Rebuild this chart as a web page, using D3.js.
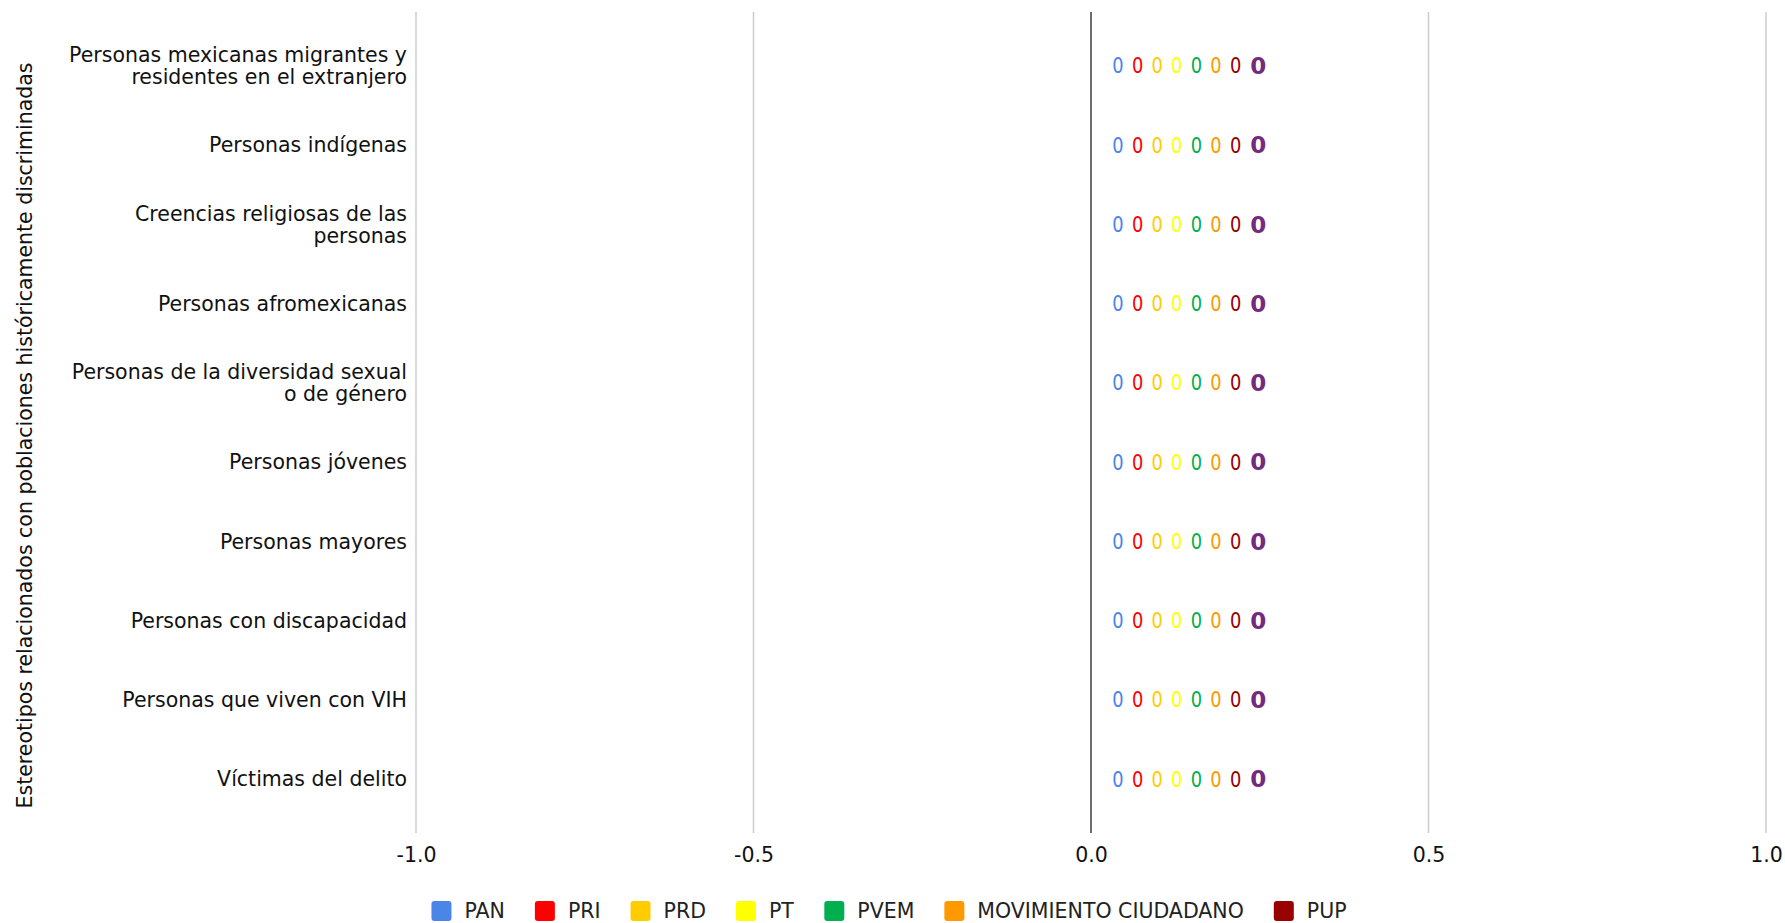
<!DOCTYPE html>
<html>
<head>
<meta charset="utf-8">
<script src="https://cdn.jsdelivr.net/npm/d3@7"></script>
<style>
  html, body { margin: 0; padding: 0; background: #fff; }
  svg { display: block; font-family: "DejaVu Sans", Verdana, sans-serif; }
</style>
</head>
<body>
<svg id="chart" width="1785" height="923"></svg>
<script>
// Categories (top to bottom)
const categories = [
  "Personas mexicanas migrantes y residentes en el extranjero",
  "Personas indígenas",
  "Creencias religiosas de las personas",
  "Personas afromexicanas",
  "Personas de la diversidad sexual o de género",
  "Personas jóvenes",
  "Personas mayores",
  "Personas con discapacidad",
  "Personas que viven con VIH",
  "Víctimas del delito"
];

// Parties (stacked series)
const parties = ["PAN", "PRI", "PRD", "PT", "PVEM", "MOVIMIENTO CIUDADANO", "PUP"];
const partyColors = ["#4a86e8", "#ff0000", "#ffcc00", "#ffff00", "#00b050", "#ff9900", "#990000"];
const totalColor = "#742a7e";

// Values per party, one entry per category
const PAN  = [0, 0, 0, 0, 0, 0, 0, 0, 0, 0];
const PRI  = [0, 0, 0, 0, 0, 0, 0, 0, 0, 0];
const PRD  = [0, 0, 0, 0, 0, 0, 0, 0, 0, 0];
const PT   = [0, 0, 0, 0, 0, 0, 0, 0, 0, 0];
const PVEM = [0, 0, 0, 0, 0, 0, 0, 0, 0, 0];
const MC   = [0, 0, 0, 0, 0, 0, 0, 0, 0, 0];
const PUP  = [0, 0, 0, 0, 0, 0, 0, 0, 0, 0];
const seriesValues = [PAN, PRI, PRD, PT, PVEM, MC, PUP];

const xTicks = [-1.0, -0.5, 0.0, 0.5, 1.0];
const axisTitle = "Estereotipos relacionados con poblaciones históricamente discriminadas";

// Layout
const svg = d3.select("#chart");
const plot = { left: 416, right: 1766, top: 12, bottom: 833 };
const fontSize = 20.5;

const x = d3.scaleLinear().domain([-1, 1]).range([plot.left, plot.right]);
const y = d3.scaleBand().domain(categories).range([plot.top, plot.bottom]).paddingInner(0).paddingOuter(0.18);

// Vertical gridlines
svg.append("g")
  .selectAll("line")
  .data(xTicks.filter(d => d !== 0))
  .join("line")
  .attr("x1", d => x(d)).attr("x2", d => x(d))
  .attr("y1", plot.top).attr("y2", plot.bottom)
  .attr("stroke", "#cccccc").attr("stroke-width", 1.5);

// Stacked data
const table = categories.map((c, i) => {
  const row = { category: c };
  parties.forEach((p, j) => row[p] = seriesValues[j][i]);
  return row;
});
const stacked = d3.stack().keys(parties)(table);

// Bars (all zero width)
svg.append("g")
  .selectAll("g")
  .data(stacked)
  .join("g")
  .attr("fill", (d, i) => partyColors[i])
  .selectAll("rect")
  .data(d => d)
  .join("rect")
  .attr("x", d => x(Math.min(d[0], d[1])))
  .attr("width", d => Math.abs(x(d[1]) - x(d[0])))
  .attr("y", d => y(d.data.category) + y.bandwidth() * 0.2)
  .attr("height", y.bandwidth() * 0.6);

// Baseline at zero
svg.append("line")
  .attr("x1", x(0)).attr("x2", x(0))
  .attr("y1", plot.top).attr("y2", plot.bottom)
  .attr("stroke", "#6e6e6e").attr("stroke-width", 2);

// X axis tick labels (plain hyphen for negatives)
const fmt = d3.format(".1f");
const xAxis = d3.axisBottom(x).tickValues(xTicks)
  .tickFormat(d => fmt(d).replace("\u2212", "-"))
  .tickSize(0).tickPadding(0);
const gx = svg.append("g")
  .attr("transform", `translate(0,${plot.bottom + 10})`)
  .call(xAxis);
gx.select(".domain").remove();
gx.selectAll("text")
  .attr("font-family", "DejaVu Sans, Verdana, sans-serif")
  .attr("font-size", fontSize)
  .attr("fill", "#111")
  .attr("dy", "0.95em");

// Category labels with wrapping
const yAxis = d3.axisLeft(y).tickSize(0).tickPadding(0);
const gy = svg.append("g")
  .attr("transform", `translate(${plot.left - 9},0)`)
  .call(yAxis);
gy.select(".domain").remove();
const maxLabelWidth = 346;
gy.selectAll("text")
  .attr("font-family", "DejaVu Sans, Verdana, sans-serif")
  .attr("font-size", fontSize)
  .attr("fill", "#111")
  .each(function(d) {
    const t = d3.select(this);
    const words = d.split(" ");
    t.text(null);
    const lines = [];
    let line = [];
    const probe = t.append("tspan");
    words.forEach(w => {
      line.push(w);
      probe.text(line.join(" "));
      if (probe.node().getComputedTextLength() > maxLabelWidth && line.length > 1) {
        line.pop();
        lines.push(line.join(" "));
        line = [w];
      }
    });
    lines.push(line.join(" "));
    probe.remove();
    const lh = 22;
    const y0 = -(lines.length - 1) * lh / 2;
    t.attr("dy", null);
    lines.forEach((l, k) => {
      t.append("tspan")
        .attr("x", 0)
        .attr("y", y0 + k * lh)
        .attr("dy", "0.35em")
        .text(l);
    });
  });

// Value annotations: each party's value, then the bold total
const annStart = 27, annStep = 19.6, totalGap = 22.6;
const annG = svg.append("g");
stacked.forEach((layer, j) => {
  annG.append("g")
    .selectAll("text")
    .data(layer)
    .join("text")
    .attr("font-size", 21)
    .attr("x", d => x(d[1]) + annStart + j * annStep)
    .attr("y", d => y(d.data.category) + y.bandwidth() / 2)
    .attr("dy", "0.36em")
    .attr("text-anchor", "middle")
    .attr("fill", partyColors[j])
    .attr("transform-origin", d => `${x(d[1]) + annStart + j * annStep}px 0px`)
    .attr("transform", "scale(0.85,1)")
    .text(d => d3.format("d")(d[1] - d[0]));
});
annG.append("g")
  .selectAll("text")
  .data(table)
  .join("text")
  .attr("font-size", 23)
  .attr("x", d => x(d3.sum(parties, p => d[p])) + annStart + (parties.length - 1) * annStep + totalGap)
  .attr("y", d => y(d.category) + y.bandwidth() / 2)
  .attr("dy", "0.36em")
  .attr("text-anchor", "middle")
  .attr("font-weight", "bold")
  .attr("fill", totalColor)
  .text(d => d3.format("d")(d3.sum(parties, p => d[p])));

// Y axis title
svg.append("text")
  .attr("transform", `translate(25,${(plot.top + plot.bottom) / 2 + 13}) rotate(-90)`)
  .attr("text-anchor", "middle")
  .attr("dy", "0.35em")
  .attr("font-size", fontSize)
  .attr("fill", "#111")
  .text(axisTitle);

// Legend
const legend = svg.append("g").attr("font-size", fontSize);
const sq = 20, sqGap = 13, itemGap = 30;
const items = legend.selectAll("g").data(parties).join("g");
items.append("rect")
  .attr("width", sq).attr("height", sq).attr("rx", 3)
  .attr("y", -sq / 2)
  .attr("fill", (d, i) => partyColors[i]);
items.append("text")
  .attr("x", sq + sqGap)
  .attr("dy", "0.35em")
  .attr("fill", "#222")
  .text(d => d);
const widths = [];
items.each(function() {
  widths.push(this.getBBox().width);
});
const totalW = d3.sum(widths) + itemGap * (widths.length - 1);
const legendCenter = 889;
let cx = legendCenter - totalW / 2;
items.attr("transform", (d, i) => {
  const tx = cx;
  cx += widths[i] + itemGap;
  return `translate(${tx},911)`;
});
</script>
</body>
</html>
